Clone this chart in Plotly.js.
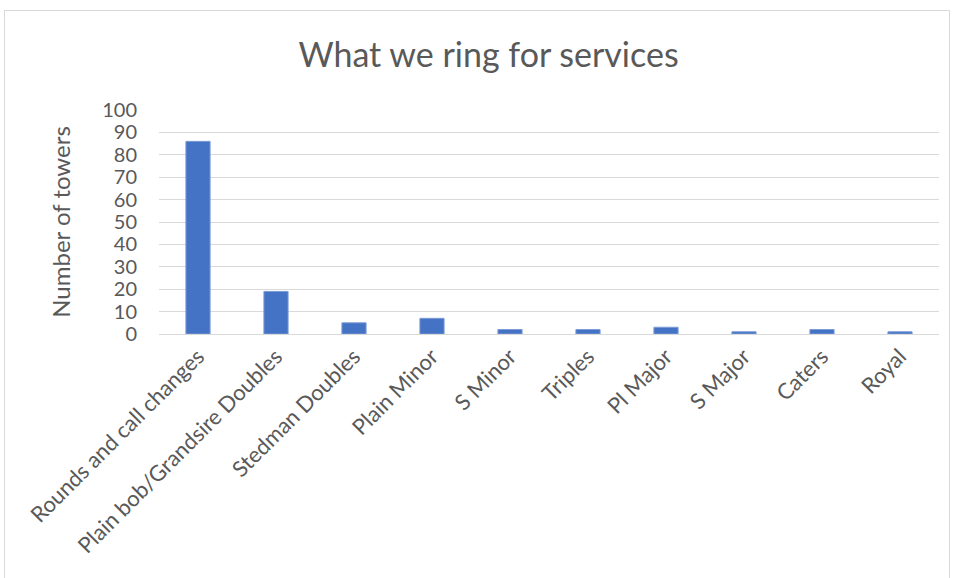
<!DOCTYPE html>
<html>
<head>
<meta charset="utf-8">
<script src="https://cdn.plot.ly/plotly-3.0.1.min.js"></script>
<style>
html,body{margin:0;padding:0;background:#fff;}
#wrap{position:relative;width:956px;height:578px;overflow:hidden;}
#chart{position:absolute;left:0;top:0;width:956px;height:578px;}
#frame{position:absolute;left:4px;top:10px;width:944px;height:600px;border:1px solid #d9d9d9;pointer-events:none;}
</style>
</head>
<body>
<div id="wrap">
<div id="chart"></div>
<div id="frame"></div>
</div>
<script>
var categories = ["Rounds and call changes","Plain bob/Grandsire Doubles","Stedman Doubles","Plain Minor","S Minor","Triples","Pl Major","S Major","Caters","Royal"];
var towers = [86, 19, 5, 7, 2, 2, 3, 1, 2, 1];
var yTicks = [0,10,20,30,40,50,60,70,80,90,100];

var FONT = "Lato, 'Open Sans', sans-serif";
var GREY = "#595959";

var data = [{
  type: "bar",
  x: categories,
  y: towers,
  marker: {color: "#4472c4", line: {color: "#7b9bd6", width: 1}},
  hoverinfo: "x+y"
}];

var layout = {
  width: 956, height: 578,
  margin: {l: 159, r: 17, t: 110, b: 244, pad: 0},
  paper_bgcolor: "#ffffff",
  plot_bgcolor: "#ffffff",
  bargap: 0.69,
  showlegend: false,
  title: {
    text: "What we ring for services",
    font: {family: FONT, size: 34, color: GREY},
    x: 0.511, xref: "container", xanchor: "center",
    y: 0.905, yref: "container", yanchor: "middle"
  },
  xaxis: {
    type: "category",
    tickangle: -45,
    tickfont: {family: FONT, size: 22, color: GREY},
    showgrid: false,
    showline: true, linecolor: "#d9d9d9", linewidth: 1,
    ticks: "", automargin: false
  },
  yaxis: {
    range: [0, 100],
    tickvals: yTicks,
    ticktext: yTicks.map(String),
    tickfont: {family: FONT, size: 20, color: GREY},
    ticklabelstandoff: 21,
    showgrid: true, gridcolor: "#d9d9d9", gridwidth: 1,
    zeroline: false, showline: false,
    ticks: "", ticklen: 0,
    automargin: false,
    title: {text: "Number of towers", font: {family: FONT, size: 24, color: GREY}, standoff: 24}
  }
};

Plotly.newPlot("chart", data, layout, {displayModeBar: false, staticPlot: true});
</script>
</body>
</html>
